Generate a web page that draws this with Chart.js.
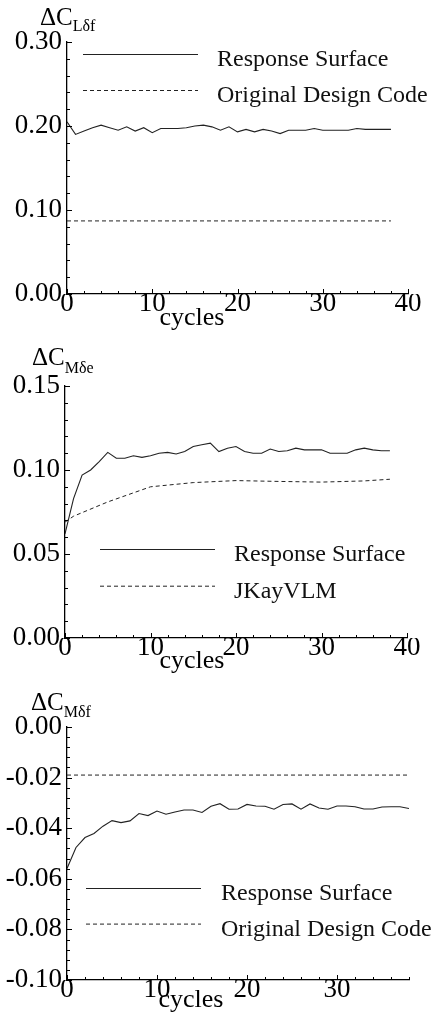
<!DOCTYPE html>
<html>
<head>
<meta charset="utf-8">
<script src="https://cdn.jsdelivr.net/npm/chart.js@4.4.1/dist/chart.umd.min.js"></script>
<style>
  html, body { margin: 0; padding: 0; background: #fff; }
  .wrap { position: relative; width: 432px; height: 1013px; }
  canvas { position: absolute; left: 0; }
</style>
</head>
<body>
<div class="wrap">
  <canvas id="liftChart" width="432" height="335" style="top:0"></canvas>
  <canvas id="elevChart" width="432" height="340" style="top:335px"></canvas>
  <canvas id="flapChart" width="432" height="338" style="top:675px"></canvas>
</div>
<script>
// cycles 0..38
const cycles = [0,1,2,3,4,5,6,7,8,9,10,11,12,13,14,15,16,17,18,19,20,21,22,23,24,25,26,27,28,29,30,31,32,33,34,35,36,37,38];

// dCL_df
const liftResponse = [0.205,0.190,0.194,0.198,0.201,0.198,0.195,0.199,0.194,0.198,0.192,0.197,0.197,0.197,0.198,0.200,0.201,0.199,0.195,0.199,
                      0.193,0.196,0.193,0.196,0.194,0.191,0.195,0.195,0.195,0.197,0.195,0.195,0.195,0.195,0.197,0.196,0.196,0.196,0.196];
const liftCodeCycles = [0, 38];
const liftCode = [0.087, 0.087];

// dCM_de
const elevResponse = [0.062,0.083,0.097,0.100,0.105,0.1105,0.107,0.107,0.1085,0.1075,0.1085,0.110,0.1105,0.1095,0.111,0.114,0.115,0.116,0.111,0.113,
                      0.114,0.111,0.110,0.110,0.1125,0.111,0.1115,0.113,0.112,0.112,0.112,0.110,0.110,0.110,0.112,0.113,0.112,0.1115,0.1115];
const vlmCycles = [0, 1, 5, 10, 15, 20, 25, 30, 35, 38];
const elevVlm = [0.069, 0.0725, 0.081, 0.090, 0.0925, 0.0937, 0.0932, 0.0928, 0.0935, 0.0945];

// dCM_df
const flapResponse = [-0.0559,-0.0476,-0.0437,-0.0421,-0.0392,-0.0370,-0.0378,-0.0371,-0.0342,-0.0350,-0.0332,-0.0345,-0.0336,-0.0328,-0.0328,-0.0338,-0.0313,-0.0303,-0.0325,-0.0324,
                      -0.0306,-0.0312,-0.0313,-0.0325,-0.0306,-0.0304,-0.0325,-0.0304,-0.0320,-0.0325,-0.0312,-0.0312,-0.0315,-0.0324,-0.0324,-0.0316,-0.0315,-0.0315,-0.0322];
const flapCodeCycles = [0, 38];
const flapCode = [-0.019, -0.019];

// tick labels
const xTicks40 = [0, 10, 20, 30, 40];
const xTicks38 = [0, 10, 20, 30];
const liftTicks = [0, 0.10, 0.20, 0.30];
const elevTicks = [0, 0.05, 0.10, 0.15];
const flapTicks = [0, -0.02, -0.04, -0.06, -0.08, -0.10];

const SERIF = "'Liberation Serif', 'DejaVu Serif', serif";
const INK = '#222';

const pts = (xs, ys) => xs.map((x, i) => ({x: x, y: ys[i]}));

// draws inward minor/major ticks, axis title, "cycles" and the in-plot legend
const decor = {
  id: 'decor',
  afterDraw(chart, args, o) {
    const {ctx, chartArea: a, scales: {x, y}} = chart;
    ctx.save();
    ctx.strokeStyle = '#000';
    ctx.lineWidth = 1;
    const isMajor = (v, list) => list.some(t => Math.abs(t - v) < 1e-9);
    for (let i = 0; ; i++) {
      const v = x.min + i * o.xMinor;
      if (v > x.max + 1e-9) break;
      const px = Math.round(x.getPixelForValue(v)) + 0.5;
      ctx.beginPath();
      ctx.moveTo(px, a.bottom);
      ctx.lineTo(px, a.bottom - (isMajor(v, o.xMajor) ? 5 : 3));
      ctx.stroke();
    }
    for (let i = 0; ; i++) {
      const v = y.min + i * o.yMinor;
      if (v > y.max + 1e-9) break;
      const py = Math.round(y.getPixelForValue(v)) + 0.5;
      ctx.beginPath();
      ctx.moveTo(a.left, py);
      ctx.lineTo(a.left + (isMajor(v, o.yMajor) ? 5 : 3), py);
      ctx.stroke();
    }

    // axis title with subscript
    ctx.fillStyle = '#000';
    ctx.textBaseline = 'alphabetic';
    ctx.textAlign = 'left';
    ctx.font = '25px ' + SERIF;
    ctx.fillText('\u0394C', o.title.x, o.title.y);
    const w = ctx.measureText('\u0394C').width;
    ctx.font = '16px ' + SERIF;
    ctx.fillText(o.title.sub, o.title.x + w, o.title.y + o.title.subDy);

    ctx.font = '26px ' + SERIF;
    ctx.textAlign = 'center';
    ctx.fillText('cycles', o.cycles.x, o.cycles.y);

    // legend
    const L = o.legend;
    chart.data.datasets.forEach((ds, i) => {
      const ly = L.y + i * L.dy;
      ctx.strokeStyle = INK;
      ctx.lineWidth = 1;
      ctx.setLineDash(ds.borderDash || []);
      ctx.beginPath();
      ctx.moveTo(L.x1, ly + 0.5);
      ctx.lineTo(L.x2, ly + 0.5);
      ctx.stroke();
      ctx.setLineDash([]);
      ctx.font = '24px ' + SERIF;
      ctx.textAlign = 'left';
      ctx.fillStyle = '#111';
      ctx.fillText(ds.label, L.tx, ly + 12);
    });
    ctx.restore();
  }
};

function makeChart(id, cfg) {
  const canvas = document.getElementById(id);
  const H = canvas.height;
  return new Chart(canvas.getContext('2d'), {
    type: 'line',
    data: { datasets: cfg.datasets },
    options: {
      responsive: false,
      animation: false,
      events: [],
      layout: { padding: { left: 0, top: cfg.top, right: 432 - cfg.right, bottom: 0 } },
      elements: { point: { radius: 0 }, line: { tension: 0, borderWidth: 1.1, borderColor: INK } },
      scales: {
        x: {
          type: 'linear', min: 0, max: cfg.xMax,
          afterFit: s => { s.height = H - cfg.bottom; },
          afterBuildTicks: s => { s.ticks = cfg.xTicks.map(v => ({value: v})); },
          grid: { display: false, drawTicks: false },
          border: { display: true, color: '#000', width: 1.3 },
          ticks: {
            autoSkip: false, maxRotation: 0, padding: 0, color: '#000',
            font: { family: SERIF, size: 27, lineHeight: 0.75 },
            callback: v => String(v)
          }
        },
        y: {
          type: 'linear', min: cfg.yMin, max: cfg.yMax,
          afterFit: s => { s.width = cfg.left; },
          afterBuildTicks: s => { s.ticks = cfg.yTicks.map(v => ({value: v})); },
          grid: { display: false, drawTicks: false },
          border: { display: true, color: '#000', width: 1.3 },
          ticks: {
            autoSkip: false, padding: 5, color: '#000',
            font: { family: SERIF, size: 27 },
            callback: v => v.toFixed(2)
          }
        }
      },
      plugins: {
        legend: { display: false },
        tooltip: { enabled: false },
        decor: cfg.decor
      }
    },
    plugins: [decor]
  });
}

makeChart('liftChart', {
  top: 42, bottom: 294, left: 67, right: 408,
  xMax: 40, xTicks: xTicks40, yMin: 0, yMax: 0.30, yTicks: liftTicks,
  datasets: [
    { label: 'Response Surface', data: pts(cycles, liftResponse) },
    { label: 'Original Design Code', data: pts(liftCodeCycles, liftCode), borderDash: [4, 3], borderWidth: 1 }
  ],
  decor: {
    xMinor: 2, xMajor: xTicks40, yMinor: 0.02, yMajor: liftTicks,
    title: { x: 40, y: 25, sub: 'L\u03b4f', subDy: 6 },
    cycles: { x: 192, y: 325 },
    legend: { x1: 83, x2: 198, tx: 217, y: 54, dy: 36 }
  }
});

makeChart('elevChart', {
  top: 51, bottom: 303, left: 65, right: 407,
  xMax: 40, xTicks: xTicks40, yMin: 0, yMax: 0.15, yTicks: elevTicks,
  datasets: [
    { label: 'Response Surface', data: pts(cycles, elevResponse) },
    { label: 'JKayVLM', data: pts(vlmCycles, elevVlm), borderDash: [4, 3], borderWidth: 1 }
  ],
  decor: {
    xMinor: 2, xMajor: xTicks40, yMinor: 0.01, yMajor: elevTicks,
    title: { x: 32, y: 30, sub: 'M\u03b4e', subDy: 8 },
    cycles: { x: 192, y: 333 },
    legend: { x1: 100, x2: 215, tx: 234, y: 214, dy: 36.7 }
  }
});

makeChart('flapChart', {
  top: 52, bottom: 305, left: 67, right: 409,
  xMax: 38, xTicks: xTicks38, yMin: -0.10, yMax: 0, yTicks: flapTicks,
  datasets: [
    { label: 'Response Surface', data: pts(cycles, flapResponse) },
    { label: 'Original Design Code', data: pts(flapCodeCycles, flapCode), borderDash: [4, 3], borderWidth: 1 }
  ],
  decor: {
    xMinor: 2, xMajor: xTicks38, yMinor: 0.004, yMajor: flapTicks,
    title: { x: 31, y: 35, sub: 'M\u03b4f', subDy: 7 },
    cycles: { x: 191, y: 332 },
    legend: { x1: 86, x2: 201, tx: 221, y: 213, dy: 35.6 }
  }
});
</script>
</body>
</html>
